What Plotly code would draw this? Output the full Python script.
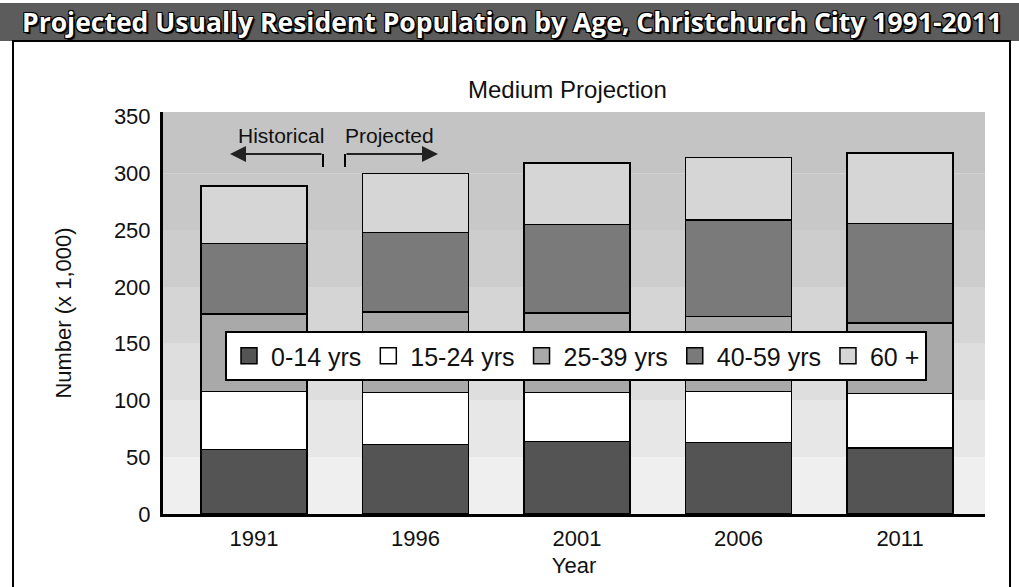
import plotly.graph_objects as go

years = ["1991", "1996", "2001", "2006", "2011"]
age_groups = ["0-14 yrs", "15-24 yrs", "25-39 yrs", "40-59 yrs", "60 +"]
v_0_14 = [57, 61, 64, 63, 58]
v_15_24 = [51, 46, 43, 45, 48]
v_25_39 = [68, 71, 70, 66, 62]
v_40_59 = [62, 70, 78, 85, 88]
v_60p = [51, 52, 54, 55, 62]
series = [v_0_14, v_15_24, v_25_39, v_40_59, v_60p]
y_ticks = [0, 50, 100, 150, 200, 250, 300, 350]

colors = ["#545454", "#ffffff", "#a9a9a9", "#7a7a7a", "#d6d6d6"]
band_colors = ["#efefef", "#e7e7e7", "#dedede", "#d5d5d5", "#cdcdcd", "#c8c8c8", "#c4c4c4"]

W, H = 1019, 587
ML, MR, MT, MB = 163, 34, 112, 73
PW, PH = W - ML - MR, H - MT - MB
FONT = "Liberation Sans, Arial, Helvetica, sans-serif"


def px(x):
    return (x - ML) / PW


def py(y):
    return (H - MB - y) / PH


fig = go.Figure()
for name, vals, col in zip(age_groups, series, colors):
    fig.add_trace(go.Bar(
        x=years, y=vals, name=name, showlegend=False,
        marker=dict(color=col, line=dict(color="#000000", width=1.5)),
    ))
# legend entries with larger square swatches
for name, col in zip(age_groups, colors):
    fig.add_trace(go.Scatter(
        x=[None], y=[None], mode="markers", name=name,
        marker=dict(symbol="square", size=16, color=col, line=dict(color="#000000", width=1.5)),
    ))

shapes = []
# background bands
for i in range(len(y_ticks) - 1):
    top = y_ticks[i + 1] if i < len(y_ticks) - 2 else 354
    shapes.append(dict(type="rect", xref="paper", yref="y", x0=0, x1=1,
                       y0=y_ticks[i], y1=top,
                       fillcolor=band_colors[i], line=dict(width=0), layer="below"))
# title banner
shapes.append(dict(type="rect", xref="paper", yref="paper", x0=px(-2), x1=px(W + 2),
                   y0=py(41), y1=py(3), fillcolor="#5c5c5c", line=dict(width=0)))
# outer border
shapes.append(dict(type="path", xref="paper", yref="paper",
                   path=f"M {px(13)} {py(H + 5)} L {px(13)} {py(41)} L {px(1010)} {py(41)} L {px(1010)} {py(H + 5)}",
                   line=dict(color="#000000", width=2)))
# historical / projected brackets
shapes.append(dict(type="line", xref="paper", yref="paper", x0=px(323), x1=px(323),
                   y0=py(154), y1=py(167), line=dict(color="#000000", width=2)))
shapes.append(dict(type="line", xref="paper", yref="paper", x0=px(345), x1=px(345),
                   y0=py(154), y1=py(167), line=dict(color="#000000", width=2)))

annotations = [
    dict(text="<b>Projected Usually Resident Population by Age, Christchurch City 1991-2011</b>",
         xref="paper", yref="paper", x=px(20), y=py(22), xanchor="left", yanchor="middle",
         showarrow=False,
         font=dict(family="Open Sans", size=26.5, color="#ffffff",
                   shadow="1px 1px 0 #000, -1px -1px 0 #000, 1px -1px 0 #000, -1px 1px 0 #000, 2px 2px 1px #000")),
    dict(text="Medium Projection", xref="paper", yref="paper", x=px(567), y=py(90),
         xanchor="center", yanchor="middle", showarrow=False,
         font=dict(family=FONT, size=24, color="#111111")),
    dict(text="Historical", xref="paper", yref="paper", x=px(281), y=py(135),
         xanchor="center", yanchor="middle", showarrow=False,
         font=dict(family=FONT, size=21, color="#111111")),
    dict(text="Projected", xref="paper", yref="paper", x=px(389), y=py(135),
         xanchor="center", yanchor="middle", showarrow=False,
         font=dict(family=FONT, size=21, color="#111111")),
    dict(text="", xref="paper", yref="paper", x=px(230), y=py(154), ax=93, ay=0,
         showarrow=True, arrowhead=2, arrowsize=1.6, arrowwidth=2, arrowcolor="#222222"),
    dict(text="", xref="paper", yref="paper", x=px(438), y=py(154), ax=-93, ay=0,
         showarrow=True, arrowhead=2, arrowsize=1.6, arrowwidth=2, arrowcolor="#222222"),
]

fig.update_layout(
    width=W, height=H,
    margin=dict(l=ML, r=MR, t=MT, b=MB, autoexpand=False),
    paper_bgcolor="#ffffff", plot_bgcolor="#ffffff",
    barmode="stack", bargap=0.344,
    font=dict(family=FONT, size=22, color="#111111"),
    shapes=shapes, annotations=annotations,
    showlegend=True,
    legend=dict(orientation="h", x=px(225), y=py(331), xanchor="left", yanchor="top",
                bgcolor="#ffffff", bordercolor="#000000", borderwidth=2,
                font=dict(family=FONT, size=25, color="#111111"),
                itemwidth=34, traceorder="normal", itemclick=False, itemdoubleclick=False),
    xaxis=dict(type="category", range=[-0.563, 4.526], showgrid=False,
               showline=True, linecolor="#000000", linewidth=3,
               ticks="", ticklabelstandoff=3, tickfont=dict(size=22),
               title=dict(text="Year", standoff=8, font=dict(size=22))),
    yaxis=dict(range=[0, 354], tickvals=y_ticks, showgrid=False, zeroline=False,
               showline=True, linecolor="#000000", linewidth=3,
               ticks="", ticklabelstandoff=5, tickfont=dict(size=22),
               title=dict(text="Number (x 1,000)", standoff=37, font=dict(size=22))),
)

fig.write_html("out.html", config={"displayModeBar": False},
               post_script="document.body.style.margin='0';document.body.style.overflow='hidden';")
